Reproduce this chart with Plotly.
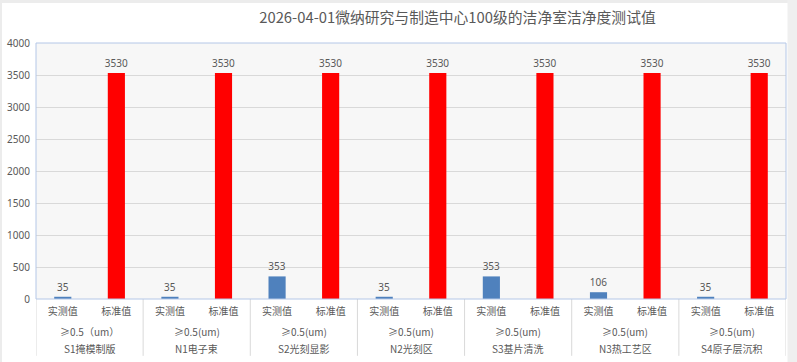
import plotly.graph_objects as go

title_text = "2026-04-01微纳研究与制造中心100级的洁净室洁净度测试值"
locations = ["S1掩模制版", "N1电子束", "S2光刻显影", "N2光刻区", "S3基片清洗", "N3热工艺区", "S4原子层沉积"]
sizes = ["≥0.5（um）", "≥0.5(um)", "≥0.5(um)", "≥0.5(um)", "≥0.5(um)", "≥0.5(um)", "≥0.5(um)"]
series_names = ["实测值", "标准值"]
measured = [35, 35, 353, 35, 353, 106, 35]
standard = [3530, 3530, 3530, 3530, 3530, 3530, 3530]
y_ticks = [0, 500, 1000, 1500, 2000, 2500, 3000, 3500, 4000]

TXT = "#595959"
CJK = "Noto Sans CJK SC"

pos, inner, vals, cols = [], [], [], []
for i in range(len(locations)):
    for j, (name, v, c) in enumerate(((series_names[0], measured[i], "#4f81bd"),
                                      (series_names[1], standard[i], "#ff0000"))):
        pos.append(2 * i + j)
        inner.append(name)
        vals.append(v)
        cols.append(c)

fig = go.Figure(go.Bar(
    x=pos, y=vals, marker=dict(color=cols, line=dict(width=0)),
    text=[str(v) for v in vals], textposition="outside", cliponaxis=False,
    constraintext="none",
    textfont=dict(size=10, color=TXT, family="Noto Sans"),
    width=0.32, showlegend=False, hoverinfo="skip",
))

annotations = []
shapes = []
n = len(locations)
for i in range(n):
    cx = 2 * i + 0.5
    annotations.append(dict(x=cx, y=-0.125, xref="x", yref="paper", text=sizes[i], showarrow=False,
                            xanchor="center", yanchor="middle", font=dict(size=10, color=TXT, family=CJK)))
    annotations.append(dict(x=cx, y=-0.195, xref="x", yref="paper", text=locations[i], showarrow=False,
                            xanchor="center", yanchor="middle", font=dict(size=10, color=TXT, family=CJK)))
for i in range(n + 1):
    shapes.append(dict(type="line", xref="x", yref="paper", x0=2 * i - 0.5, x1=2 * i - 0.5,
                       y0=0, y1=-0.222, line=dict(color="#d9d9d9", width=1)))

shapes.append(dict(type="rect", xref="paper", yref="paper", x0=0, x1=1, y0=0, y1=1,
                   line=dict(color="#b4c7e7", width=1), fillcolor="rgba(0,0,0,0)", layer="above"))
# light grey frame edges of the picture
shapes.append(dict(type="rect", xref="paper", yref="paper", x0=-36 / 750, x1=-34 / 750, y0=-63 / 256, y1=1 + 43 / 256,
                   line=dict(width=0), fillcolor="#ececec"))
shapes.append(dict(type="rect", xref="paper", yref="paper", x0=-36 / 750, x1=1 + 11 / 750, y0=1 + 40 / 256, y1=1 + 43 / 256,
                   line=dict(width=0), fillcolor="#ececec"))
shapes.append(dict(type="rect", xref="paper", yref="paper", x0=1 + 1.5 / 750, x1=1 + 11 / 750, y0=-63 / 256, y1=1 + 43 / 256,
                   line=dict(width=0), fillcolor="#efefef"))

fig.update_layout(
    width=797, height=362,
    margin=dict(l=36, r=11, t=43, b=63, autoexpand=False),
    paper_bgcolor="white", plot_bgcolor="#f7f7f7",
    hovermode=False,
    title=dict(text=title_text, x=457.5 / 797, xanchor="center", y=0.952, yanchor="middle",
               font=dict(size=14.8, color=TXT, family=CJK)),
    font=dict(family=CJK, color=TXT),
    xaxis=dict(range=[-0.5, 2 * n - 0.5], tickvals=pos, ticktext=inner, automargin=False,
               tickfont=dict(size=10, color=TXT, family=CJK), ticklabelstandoff=5,
               showline=False, showgrid=False, zeroline=False, ticks=""),
    yaxis=dict(range=[0, 4000], tickvals=y_ticks, tickfont=dict(size=10, color=TXT, family="Noto Sans"),
               ticklabelstandoff=5, automargin=False,
               gridcolor="#d9d9d9", gridwidth=1, zeroline=False, showline=False, ticks=""),
    annotations=annotations,
    shapes=shapes,
)

fig.write_html("out.html", config={"staticPlot": True, "displayModeBar": False},
               post_script="document.body.style.margin='0';document.body.style.overflow='hidden';")
